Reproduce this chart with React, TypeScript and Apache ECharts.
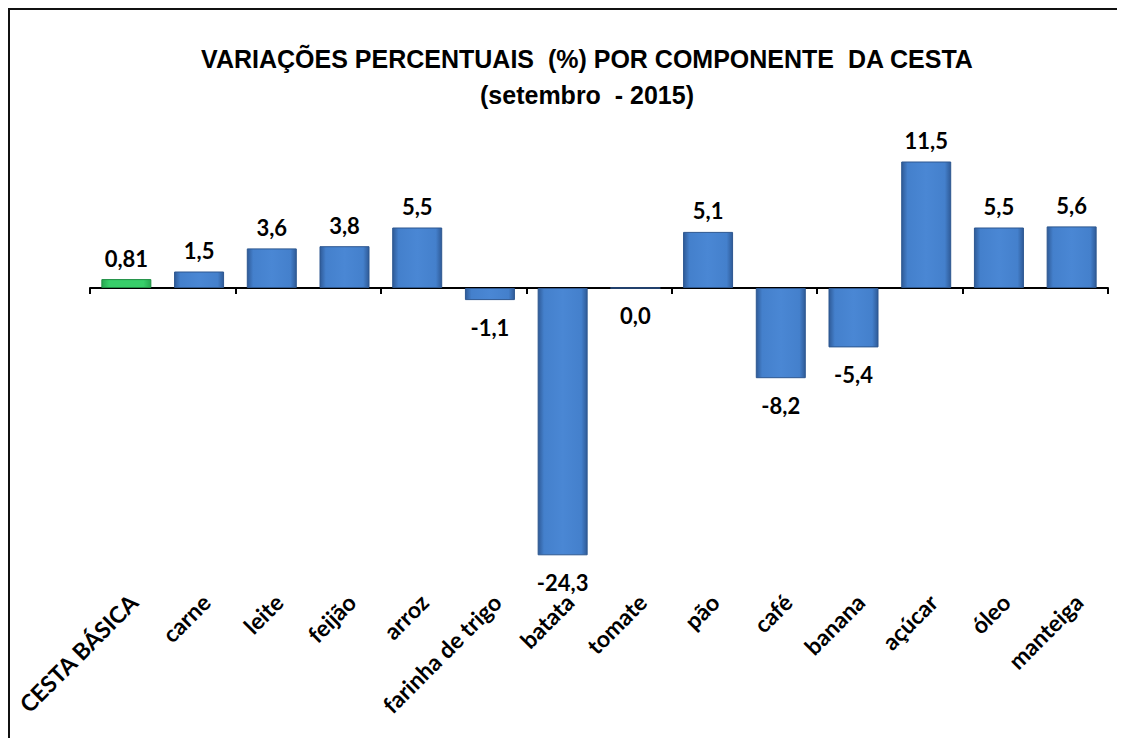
import React, { useEffect, useRef } from "react";
import * as echarts from "echarts";

const categories = [
  "CESTA BÁSICA",
  "carne",
  "leite",
  "feijão",
  "arroz",
  "farinha de trigo",
  "batata",
  "tomate",
  "pão",
  "café",
  "banana",
  "açúcar",
  "óleo",
  "manteiga",
];
const values = [0.81, 1.5, 3.6, 3.8, 5.5, -1.1, -24.3, 0.0, 5.1, -8.2, -5.4, 11.5, 5.5, 5.6];
const titleLines = ["VARIAÇÕES PERCENTUAIS  (%) POR COMPONENTE  DA CESTA", "(setembro  - 2015)"];

const fmt = (v: number) => {
  const s = Math.round(Math.abs(v) * 100) % 10 !== 0 ? v.toFixed(2) : v.toFixed(1);
  return s.replace(".", ",");
};

const blue = {
  type: "linear",
  x: 0,
  y: 0,
  x2: 1,
  y2: 0,
  colorStops: [
    { offset: 0, color: "#2f5b98" },
    { offset: 0.12, color: "#4480cc" },
    { offset: 0.5, color: "#4a87d4" },
    { offset: 0.88, color: "#4480cc" },
    { offset: 1, color: "#2f5b98" },
  ],
};
const green = {
  type: "linear",
  x: 0,
  y: 0,
  x2: 1,
  y2: 0,
  colorStops: [
    { offset: 0, color: "#27a850" },
    { offset: 0.15, color: "#38cf6a" },
    { offset: 0.85, color: "#38cf6a" },
    { offset: 1, color: "#27a850" },
  ],
};

export default function App() {
  const ref = useRef<HTMLDivElement>(null);
  useEffect(() => {
    document.body.style.overflow = "hidden";
    if (!ref.current) return;
    const chart = echarts.init(ref.current, null, { renderer: "svg" });
    const data = values.map((v, i) => ({
      value: v,
      itemStyle: {
        color: i === 0 ? green : blue,
        borderColor: i === 0 ? "#1f8f44" : "#2d5790",
        borderWidth: 1,
      },
      label: {
        position: v > 0 ? "top" : "bottom",
        distance: v > 0 ? 10 : 16,
      },
    }));
    chart.setOption({
      animation: false,
      backgroundColor: "#ffffff",
      title: {
        text: titleLines.join("\n"),
        left: 572,
        textAlign: "center",
        top: 26,
        textStyle: {
          fontFamily: "Liberation Sans",
          fontWeight: "bold",
          fontSize: 25,
          lineHeight: 36,
          color: "#000",
        },
      },
      grid: [
        { left: 80, right: 14, top: 124, height: 440, outerBoundsMode: "none", containLabel: false },
        { left: 87, right: 7, top: 124, height: 440, outerBoundsMode: "none", containLabel: false },
      ],
      xAxis: [
        {
          type: "category",
          gridIndex: 0,
          data: categories,
          axisLine: { onZero: true, lineStyle: { color: "#000", width: 2 } },
          axisTick: { show: true, length: 6, lineStyle: { color: "#000", width: 2 } },
          axisLabel: { show: false },
          splitLine: { show: false },
        },
        {
          type: "category",
          gridIndex: 1,
          data: categories,
          position: "bottom",
          axisLine: { show: false },
          axisTick: { show: false },
          axisLabel: {
            rotate: 45,
            margin: 24,
            interval: 0,
            fontFamily: "Lato",
            fontWeight: "bold",
            fontSize: 23,
            color: "#000",
          },
        },
      ],
      yAxis: [
        { type: "value", gridIndex: 0, min: -26, max: 14, show: false, splitLine: { show: false } },
        { type: "value", gridIndex: 1, min: -26, max: 14, show: false, splitLine: { show: false } },
      ],
      series: [
        {
          type: "bar",
          xAxisIndex: 0,
          yAxisIndex: 0,
          barWidth: 50,
          data,
          label: {
            show: true,
            fontFamily: "Lato",
            fontWeight: "bold",
            fontSize: 22,
            color: "#000",
            formatter: (p: any) => fmt(p.value),
          },
        },
      ],
    });
    return () => chart.dispose();
  }, []);
  return (
    <div style={{ border: "2px solid #111", width: 1112, height: 740 }}>
      <div ref={ref} style={{ width: 1112, height: 740 }} />
    </div>
  );
}
